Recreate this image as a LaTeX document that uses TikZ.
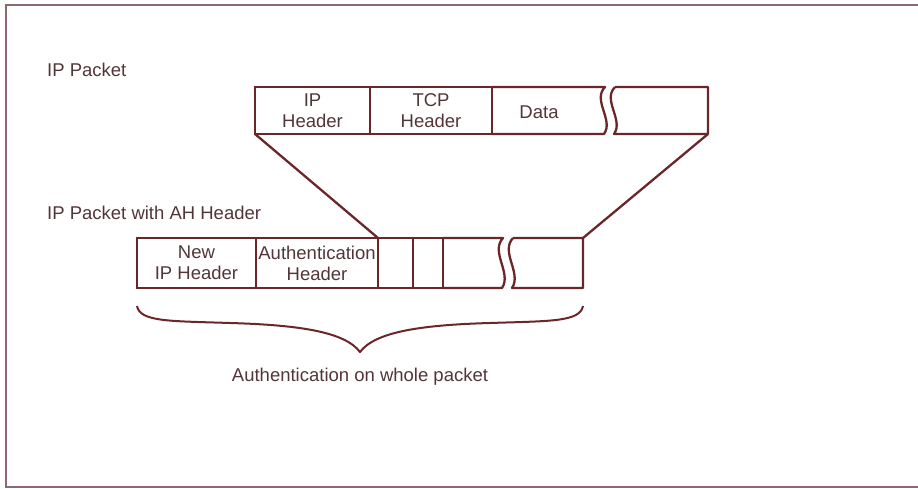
\documentclass[tikz,border=0pt]{standalone}
\usepackage{fontspec}
\setmainfont{Liberation Sans}
\definecolor{lc}{HTML}{6A2629}
\definecolor{tc}{HTML}{523539}
\definecolor{fc}{HTML}{8E6A70}
\begin{document}
\begin{tikzpicture}[x=1pt,y=-1pt,
  cell/.style={draw=lc, line width=2.3pt, minimum height=47pt, inner sep=0pt, outer sep=0pt, align=center, text=tc,
    font=\fontsize{18.5}{21}\selectfont},
  lbl/.style={text=tc, font=\fontsize{18.5}{21}\selectfont, inner sep=0pt},
  edge/.style={draw=lc, line width=2.3pt, line join=round}]
\useasboundingbox (0,0) rectangle (918,489);
\draw[fc, line width=1.3pt] (918,5) -- (6,5) -- (6,487) -- (918,487);

\node[lbl, anchor=west] (l1) at (47,70) {IP Packet};
\node[lbl, anchor=west] (l2) at (47,213) {IP Packet with AH Header};

% top packet
\node[cell, minimum width=115pt] (iph) at (312.5,110.5) {IP\\Header};
\node[cell, minimum width=122pt] (tcph) at (431,110.5) {TCP\\Header};
\draw[edge] (tcph.north east) -- (605,87) .. controls (592,100) and (614,120) .. (604,134) -- (tcph.south east);
\node[lbl] (data) at (539,112) {Data};
\coordinate (tr) at (708,134);
\draw[edge] (615,87) -- (708,87) -- (tr) -- (614,134) .. controls (624,120) and (602,100) .. (615,87);

% bottom packet
\node[cell, minimum width=119pt, minimum height=50pt] (newip) at (196.5,263) {New\\IP Header};
\node[cell, minimum width=122pt, minimum height=50pt] (authh) at (317,263) {Authentication\\Header};
\node[cell, minimum width=35pt, minimum height=50pt] (c1) at (395.5,263) {};
\node[cell, minimum width=30pt, minimum height=50pt] (c2) at (428,263) {};
\draw[edge] (c2.north east) -- (503,238) .. controls (490,252) and (512,273) .. (502,288) -- (c2.south east);
\coordinate (br) at (583,238);
\draw[edge] (513,238) -- (br) -- (583,288) -- (512,288) .. controls (522,273) and (500,252) .. (513,238);

% connectors
\draw[edge] (iph.south west) -- (authh.north east);
\draw[edge] (tr) -- (br);

% brace
\coordinate (bl) at (137,306);
\coordinate (bt) at (360,352);
\coordinate (brr) at (583,306);
\draw[edge, line width=2pt] (bl) .. controls (140,322) and (170,321) .. (230,323)
  .. controls (300,325) and (345,332) .. (bt)
  .. controls (375,332) and (420,325) .. (490,323)
  .. controls (550,321) and (580,322) .. (brr);
\node[lbl] (cap) at (360,377) {Authentication on whole packet};
\end{tikzpicture}
\end{document}
